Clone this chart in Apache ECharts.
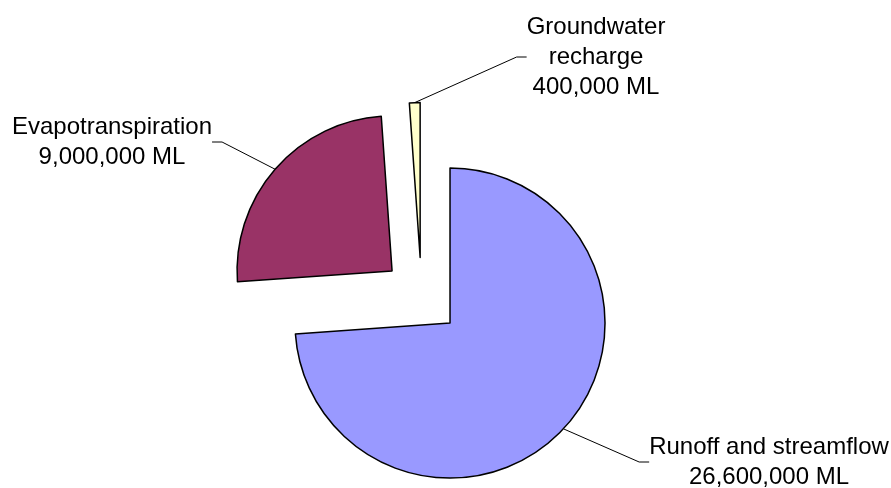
<!DOCTYPE html>
<html>
<head>
<meta charset="utf-8">
<script src="https://cdn.jsdelivr.net/npm/echarts@6/dist/echarts.min.js"></script>
<style>
    html, body { margin: 0; padding: 0; background: #fff; }
    #waterPie { width: 891px; height: 488px; }
</style>
</head>
<body>
<div id="waterPie"></div>
<script>
    // water balance, megalitres
    var categories = ['Runoff and streamflow', 'Evapotranspiration', 'Groundwater\nrecharge'];
    var volumes = [26600000, 9000000, 400000];
    var colors = ['#9999FF', '#993366', '#FFFFCC'];

    // where each label block sits (centre of text)
    var labelSpots = [[769, 462], [112, 142], [596, 57]];

    var pieCenter = [421.5, 296.5];
    var pieRadius = 155;
    var explode = 39;

    function fmt(n) {
        return String(n).replace(/\B(?=(\d{3})+(?!\d))/g, ',');
    }

    // exploded pie: one series per slice, each pushed out along its own mid angle
    var total = volumes.reduce(function (a, b) { return a + b; }, 0);
    var seriesList = [];
    var acc = 0;
    volumes.forEach(function (v, k) {
        var mid = (acc + v / 2) / total * Math.PI * 2;
        acc += v;
        seriesList.push({
            type: 'pie',
            center: [pieCenter[0] + explode * Math.sin(mid), pieCenter[1] - explode * Math.cos(mid)],
            radius: pieRadius,
            startAngle: 90,
            clockwise: true,
            avoidLabelOverlap: false,
            silent: true,
            label: {
                color: '#000',
                fontFamily: 'Liberation Sans, Arial, sans-serif',
                fontSize: 24,
                lineHeight: 30,
                align: 'center',
                formatter: function (p) {
                    return p.name + '\n' + fmt(p.value) + ' ML';
                }
            },
            labelLine: {
                length2: 10,
                lineStyle: { color: '#000', width: 1 }
            },
            labelLayout: function (p) {
                var s = labelSpots[p.dataIndex];
                return { x: s[0], y: s[1], align: 'center', verticalAlign: 'middle' };
            },
            emphasis: { disabled: true },
            data: categories.map(function (c, i) {
                var on = i === k;
                return {
                    name: c,
                    value: volumes[i],
                    itemStyle: on
                        ? { color: colors[i], borderColor: '#000', borderWidth: 1.5 }
                        : { color: 'rgba(0,0,0,0)', borderWidth: 0 },
                    label: { show: on },
                    labelLine: { show: on }
                };
            })
        });
    });

    var chart = echarts.init(document.getElementById('waterPie'));
    chart.setOption({
        animation: false,
        series: seriesList
    });
</script>
</body>
</html>
